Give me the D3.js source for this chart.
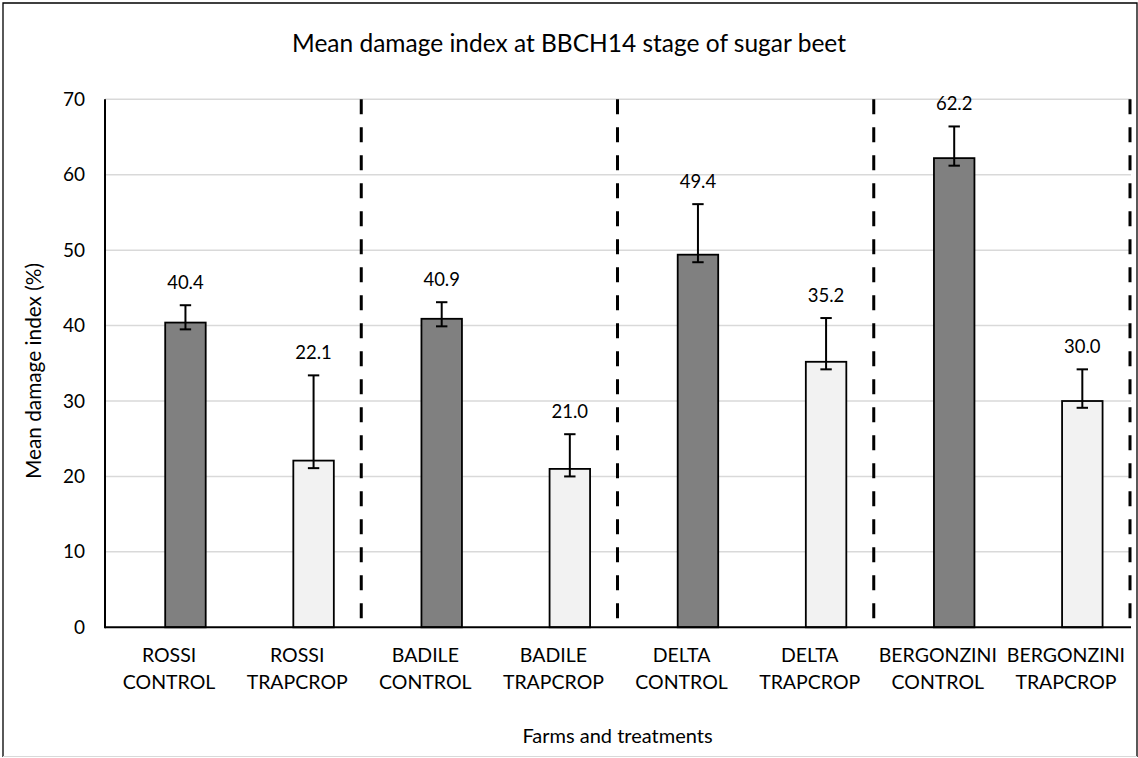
<!DOCTYPE html>
<html>
<head>
<meta charset="utf-8">
<script src="https://cdn.jsdelivr.net/npm/d3@7"></script>
<style>
  html, body { margin: 0; padding: 0; background: #fff; }
  svg { display: block; }
  text { font-family: Lato, "Open Sans", sans-serif; fill: #000; }
</style>
</head>
<body>
<svg id="chart" width="1138" height="758"></svg>
<script>
// ---- data ----
const farms = ["ROSSI", "ROSSI", "BADILE", "BADILE", "DELTA", "DELTA", "BERGONZINI", "BERGONZINI"];
const treatments = ["CONTROL", "TRAPCROP", "CONTROL", "TRAPCROP", "CONTROL", "TRAPCROP", "CONTROL", "TRAPCROP"];
const means = [40.4, 22.1, 40.9, 21.0, 49.4, 35.2, 62.2, 30.0];
const errHigh = [42.7, 33.4, 43.1, 25.6, 56.1, 41.0, 66.4, 34.2];
const errLow = [39.5, 21.1, 39.9, 20.0, 48.4, 34.2, 61.2, 29.1];
const yTicks = [0, 10, 20, 30, 40, 50, 60, 70];
const titleText = "Mean damage index at BBCH14 stage of sugar beet";
const yTitle = "Mean damage index (%)";
const xTitle = "Farms and treatments";

// ---- layout ----
const W = 1138, H = 758;
const plot = { left: 105, right: 1130, top: 99.3, bottom: 627.3 };
const svg = d3.select("#chart");

const idx = d3.range(means.length);
const x = d3.scaleBand().domain(idx).range([plot.left, plot.right]).paddingInner(0).paddingOuter(0);
const y = d3.scaleLinear().domain([0, 70]).range([plot.bottom, plot.top]);

const barW = 40.5;
const barOffset = 60.2; // from band start

// outer frame
svg.append("path")
  .attr("d", `M3,757 L3,3 L1137,3 L1137,757`)
  .attr("fill", "none").attr("stroke", "#000").attr("stroke-width", 1.3);
svg.append("line").attr("x1", 3).attr("x2", 1137).attr("y1", 756.5).attr("y2", 756.5)
  .attr("stroke", "#d9d9d9").attr("stroke-width", 1);

// gridlines
svg.append("g").selectAll("line").data(yTicks.filter(d => d > 0)).join("line")
  .attr("x1", plot.left).attr("x2", plot.right + 1)
  .attr("y1", d => y(d)).attr("y2", d => y(d))
  .attr("stroke", "#d9d9d9").attr("stroke-width", 1.5);

// y axis
const yAxis = d3.axisLeft(y).tickValues(yTicks).tickSize(0).tickPadding(20).tickFormat(d3.format("d"));
const gy = svg.append("g").attr("transform", `translate(${plot.left},0)`).call(yAxis);
gy.select(".domain").remove();
gy.selectAll("text").style("font-size", "19px").style("font-family", "Lato, sans-serif");

// bars
svg.append("g").selectAll("rect").data(idx).join("rect")
  .attr("x", i => x(i) + barOffset)
  .attr("width", barW)
  .attr("y", i => y(means[i]))
  .attr("height", i => y(0) - y(means[i]))
  .attr("fill", i => treatments[i] === "CONTROL" ? "#808080" : "#f2f2f2")
  .attr("stroke", "#000").attr("stroke-width", 1.8);

// error bars
const eg = svg.append("g").attr("stroke", "#000").attr("stroke-width", 2);
idx.forEach(i => {
  const cx = x(i) + barOffset + barW / 2;
  eg.append("line").attr("x1", cx).attr("x2", cx).attr("y1", y(errHigh[i])).attr("y2", y(errLow[i]));
  eg.append("line").attr("x1", cx - 5.7).attr("x2", cx + 5.7).attr("y1", y(errHigh[i])).attr("y2", y(errHigh[i]));
  eg.append("line").attr("x1", cx - 5.7).attr("x2", cx + 5.7).attr("y1", y(errLow[i])).attr("y2", y(errLow[i]));
});

// value labels
svg.append("g").selectAll("text").data(idx).join("text")
  .attr("x", i => x(i) + barOffset + barW / 2)
  .attr("y", i => y(errHigh[i]) - 23)
  .attr("text-anchor", "middle").attr("dominant-baseline", "central")
  .style("font-size", "18.5px")
  .text(i => means[i].toFixed(1));

// axes lines
svg.append("line").attr("x1", plot.left).attr("x2", plot.left).attr("y1", plot.top).attr("y2", plot.bottom + 1)
  .attr("stroke", "#000").attr("stroke-width", 2);
svg.append("line").attr("x1", plot.left).attr("x2", plot.right + 1).attr("y1", plot.bottom).attr("y2", plot.bottom)
  .attr("stroke", "#000").attr("stroke-width", 2);

// farm separators (dashed)
const seps = idx.filter(i => i === means.length - 1 || farms[i] !== farms[i + 1]);
svg.append("g").selectAll("line").data(seps).join("line")
  .attr("x1", i => x(i) + x.bandwidth()).attr("x2", i => x(i) + x.bandwidth())
  .attr("y1", plot.top).attr("y2", plot.bottom - 9)
  .attr("stroke", "#000").attr("stroke-width", 3).attr("stroke-dasharray", "15,13");

// category labels
const cl = svg.append("g").selectAll("text").data(idx).join("text")
  .attr("text-anchor", "middle")
  .style("font-size", "19.5px");
cl.append("tspan").attr("x", i => x(i) + x.bandwidth() / 2).attr("y", 662).text(i => farms[i]);
cl.append("tspan").attr("x", i => x(i) + x.bandwidth() / 2).attr("y", 689).text(i => treatments[i]);

// titles
svg.append("text").attr("x", W / 2).attr("y", 42).attr("text-anchor", "middle")
  .attr("dominant-baseline", "central").style("font-size", "24.5px").text(titleText);
svg.append("text").attr("transform", `translate(32,371) rotate(-90)`).attr("text-anchor", "middle")
  .attr("dominant-baseline", "central").style("font-size", "20.8px").text(yTitle);
svg.append("text").attr("x", (plot.left + plot.right) / 2).attr("y", 735).attr("text-anchor", "middle")
  .attr("dominant-baseline", "central").style("font-size", "20px").text(xTitle);
</script>
</body>
</html>
